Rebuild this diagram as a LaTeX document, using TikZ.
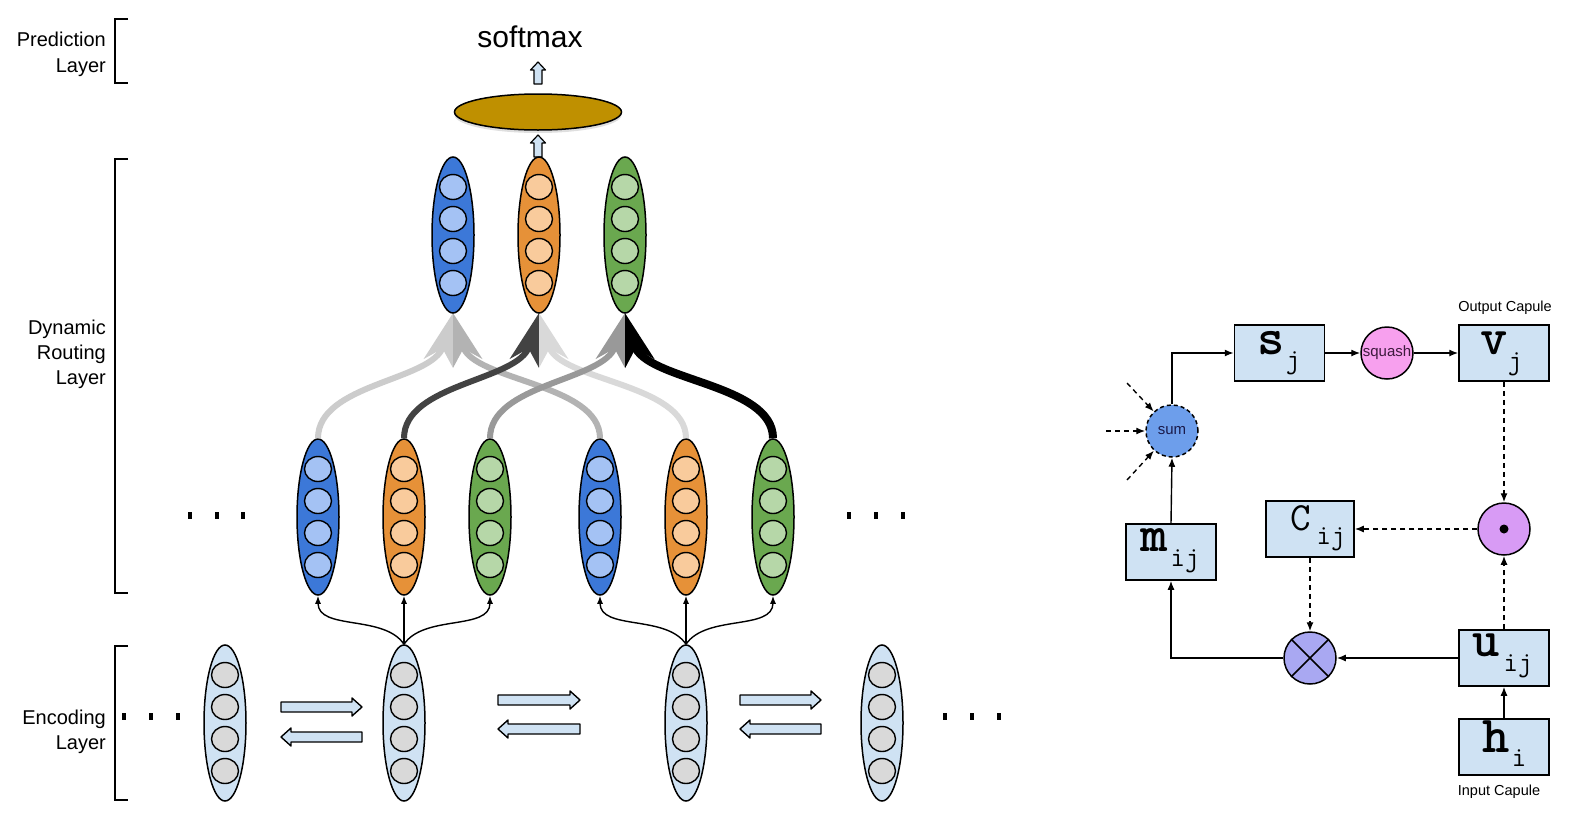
\documentclass[tikz,border=0pt]{standalone}
\usepackage{fontspec}
\setmainfont{Liberation Sans}
\usetikzlibrary{shapes.geometric,arrows.meta,calc,shadows}
\definecolor{capB}{HTML}{3C78D8}
\definecolor{cellB}{HTML}{A4C2F4}
\definecolor{capO}{HTML}{E69138}
\definecolor{cellO}{HTML}{F9CB9C}
\definecolor{capG}{HTML}{6AA84F}
\definecolor{cellG}{HTML}{B6D7A8}
\definecolor{encF}{HTML}{CFE2F3}
\definecolor{cellE}{HTML}{D9D9D9}
\definecolor{gold}{HTML}{BF9000}
\definecolor{sumF}{HTML}{6D9EEB}
\definecolor{sqF}{HTML}{F7A0EE}
\definecolor{odF}{HTML}{D89BF5}
\definecolor{otF}{HTML}{A9A8F2}
\definecolor{rA}{HTML}{CCCCCC}
\definecolor{rB}{HTML}{434343}
\definecolor{rC}{HTML}{999999}
\definecolor{rD}{HTML}{B3B3B3}
\definecolor{rE}{HTML}{D9D9D9}
\definecolor{sqT}{HTML}{3D1A3D}
\definecolor{sumT}{HTML}{1A1A4A}

\tikzset{
  capsule/.style={ellipse, draw, line width=1.5pt, minimum width=42pt, minimum height=156pt, inner sep=0pt},
  cell/.style={ellipse, draw, line width=1.4pt, minimum width=27pt, minimum height=25pt, inner sep=0pt},
  route/.style={line width=6pt, -{Stealth[length=52pt, width=30pt, inset=15pt]}},
  thinarr/.style={line width=1.4pt, -{Latex[length=8pt,width=6pt]}},
  barrow/.style={draw, fill=encF, line width=1.4pt, line join=round},
  lbl/.style={inner sep=0pt, anchor=base east, font=\fontsize{20}{25}\selectfont},
  box/.style={draw, line width=1.5pt, fill=encF, minimum width=90pt, minimum height=56pt, inner sep=0pt},
  circ/.style={circle, draw, line width=1.5pt, minimum size=52pt, inner sep=0pt},
  arr/.style={line width=1.4pt, -{Latex[length=9pt,width=7pt]}},
  darr/.style={arr, dash pattern=on 5pt off 4pt},
  lt/.style={inner sep=0pt, font=\fontsize{52}{52}\selectfont\ttfamily\bfseries},
  sb/.style={inner sep=0pt, font=\fontsize{28}{28}\selectfont\ttfamily},
  small/.style={inner sep=0pt, font=\fontsize{14.5}{16}\selectfont},
}

\newcommand{\mycaps}[5]{%
  \node[capsule, fill=#4] (#1) at (#2,#3) {};
  \foreach \k/\dy in {1/-48,2/-16,3/16,4/48}
    \node[cell, fill=#5] (#1c\k) at (#2,{#3+\dy}) {};
}
\newcommand{\barrR}[3]{%
  \draw[barrow] (#1,{#3-5}) -- ({#2-10},{#3-5}) -- ({#2-10},{#3-9}) -- (#2,#3) -- ({#2-10},{#3+9}) -- ({#2-10},{#3+5}) -- (#1,{#3+5}) -- cycle;}
\newcommand{\barrL}[3]{%
  \draw[barrow] (#2,{#3-5}) -- ({#1+10},{#3-5}) -- ({#1+10},{#3-9}) -- (#1,#3) -- ({#1+10},{#3+9}) -- ({#1+10},{#3+5}) -- (#2,{#3+5}) -- cycle;}
\newcommand{\barrU}[3]{%
  \draw[barrow, line width=1.2pt] ({#1-4},#3) -- ({#1-4},{#2+8}) -- ({#1-7.5},{#2+8}) -- (#1,#2) -- ({#1+7.5},{#2+8}) -- ({#1+4},{#2+8}) -- ({#1+4},#3) -- cycle;}

\begin{document}
\begin{tikzpicture}[x=1pt, y=-1pt]
\path[fill=white, use as bounding box] (0,0) rectangle (1590,817);

% ---------- left labels and brackets ----------
\node[lbl] (lp1) at (106,46) {Prediction};
\node[lbl] (lp2) at (106,72) {Layer};
\node[lbl] (ld1) at (106,334) {Dynamic};
\node[lbl] (ld2) at (106,359) {Routing};
\node[lbl] (ld3) at (106,384) {Layer};
\node[lbl] (le1) at (106,724) {Encoding};
\node[lbl] (le2) at (106,749) {Layer};
\draw[line width=2pt] (128,19) -- (115,19) -- (115,83) -- (128,83);
\draw[line width=2pt] (128,159) -- (115,159) -- (115,593) -- (128,593);
\draw[line width=2pt] (128,646) -- (115,646) -- (115,800) -- (128,800);

% ---------- prediction ----------
\node[font=\fontsize{30}{36}\selectfont, inner sep=0pt] (sm) at (530,37) {softmax};
\node[ellipse, draw, line width=1.5pt, fill=gold, minimum width=167pt, minimum height=36pt, inner sep=0pt,
      drop shadow={opacity=0.25, shadow xshift=0pt, shadow yshift=-3pt}] (pred) at (538,112) {};
\barrU{538}{62}{84}
\barrU{538}{135}{157}

% ---------- capsules ----------
\mycaps{m1}{318}{517}{capB}{cellB}
\mycaps{m2}{404}{517}{capO}{cellO}
\mycaps{m3}{490}{517}{capG}{cellG}
\mycaps{m4}{600}{517}{capB}{cellB}
\mycaps{m5}{686}{517}{capO}{cellO}
\mycaps{m6}{773}{517}{capG}{cellG}

% routing curves
\draw[route, rE] (m5.north) .. controls +(0,-55) and +(20,68) .. (539,313);
\draw[route, rA] (m1.north) .. controls +(0,-55) and +(-20,68) .. (453,313);
\draw[route, rD] (m4.north) .. controls +(0,-55) and +(20,68) .. (453,313);
\draw[route, rC] (m3.north) .. controls +(0,-55) and +(-20,68) .. (625,313);
\draw[route, rB] (m2.north) .. controls +(0,-55) and +(-20,68) .. (539,313);
\draw[route, black, line width=8pt] (m6.north) .. controls +(0,-55) and +(20,68) .. (625,313);

\mycaps{t1}{453}{235}{capB}{cellB}
\mycaps{t2}{539}{235}{capO}{cellO}
\mycaps{t3}{625}{235}{capG}{cellG}

% encoding capsules
\mycaps{e1}{225}{723}{encF}{cellE}
\mycaps{e2}{404}{723}{encF}{cellE}
\mycaps{e3}{686}{723}{encF}{cellE}
\mycaps{e4}{882}{723}{encF}{cellE}

% encoding -> routing
\draw[thinarr] (e2.north) .. controls +(-20,-30) and +(0,35) .. (m1.south);
\draw[thinarr] (e2.north) -- (m2.south);
\draw[thinarr] (e2.north) .. controls +(20,-30) and +(0,35) .. (m3.south);
\draw[thinarr] (e3.north) .. controls +(-20,-30) and +(0,35) .. (m4.south);
\draw[thinarr] (e3.north) -- (m5.south);
\draw[thinarr] (e3.north) .. controls +(20,-30) and +(0,35) .. (m6.south);

% bidirectional block arrows
\barrR{281}{362}{707}
\barrL{281}{362}{737}
\barrR{498}{580}{700}
\barrL{498}{580}{729}
\barrR{740}{821}{700}
\barrL{740}{821}{729}

% dots
\foreach \x in {190,217,243} \fill (\x-2,512) rectangle (\x+2,519);
\foreach \x in {849,876,903} \fill (\x-2,512) rectangle (\x+2,519);
\foreach \x in {124,151,178} \fill (\x-2,713) rectangle (\x+2,720);
\foreach \x in {945,972,999} \fill (\x-2,713) rectangle (\x+2,720);

% ---------- right panel ----------
\node[box] (sj) at (1279.5,353) {};
\node[box] (vj) at (1504,353) {};
\node[box] (mij) at (1171,552) {};
\node[box, minimum width=88pt] (cij) at (1310,529) {};
\node[box] (uij) at (1504,658) {};
\node[box] (hi) at (1504,747) {};

\node[lt] (sjL) at (1271,343) {s};
\node[sb] (sjS) at (1293,363) {j};
\node[lt] (vjL) at (1494,343) {v};
\node[sb] (vjS) at (1515,364) {j};
\node[lt] (mijL) at (1154,540) {m};
\node[sb] (mijS) at (1185,561) {ij};
\node[inner sep=0pt, font=\fontsize{40}{40}\selectfont\ttfamily] (cijL) at (1301,518) {C};
\node[sb] (cijS) at (1331,539) {ij};
\node[lt] (uijL) at (1486,645) {u};
\node[sb] (uijS) at (1518,666) {ij};
\node[lt] (hiL) at (1496,737) {h};
\node[sb] (hiS) at (1519,758) {i};

\node[small] (outlbl) at (1505,308) {Output Capule};
\node[small] (inlbl) at (1499,792) {Input Capule};

\node[circ, fill=sumF, dash pattern=on 4pt off 3pt, text=sumT, font=\fontsize{15}{15}\selectfont] (sum) at (1172,431) {sum};
\node[circ, fill=sqF, text=sqT, font=\fontsize{15}{15}\selectfont] (sq) at (1387,353) {squash};
\node[circ, fill=odF] (od) at (1504,529) {};
\node[circle, fill=black, minimum size=9pt, inner sep=0pt] (odc) at (od.center) {};
\node[circ, fill=otF] (ot) at (1310,658) {};
\draw[line width=1.5pt] (ot.45) -- (ot.225) (ot.135) -- (ot.315);

\coordinate (in1) at (1127,383);
\coordinate (in2) at (1106,431);
\coordinate (in3) at (1127,480);
\draw[darr] (in1) -- (sum);
\draw[darr] (in2) -- (sum);
\draw[darr] (in3) -- (sum);

\draw[arr] (sum.north) |- (sj.west);
\draw[arr] (sj.east) -- (sq.west);
\draw[arr] (sq.east) -- (vj.west);
\draw[darr] (vj.south) -- (od.north);
\draw[darr] (od.west) -- (cij.east);
\draw[darr] (cij.south) -- (ot.north);
\draw[darr] (uij.north) -- (od.south);
\draw[arr] (hi.north) -- (uij.south);
\draw[arr] (uij.west) -- (ot.east);
\draw[arr] (ot.west) -| (mij.south);
\draw[arr] (mij.north) -- (sum.south);
\end{tikzpicture}
\end{document}
